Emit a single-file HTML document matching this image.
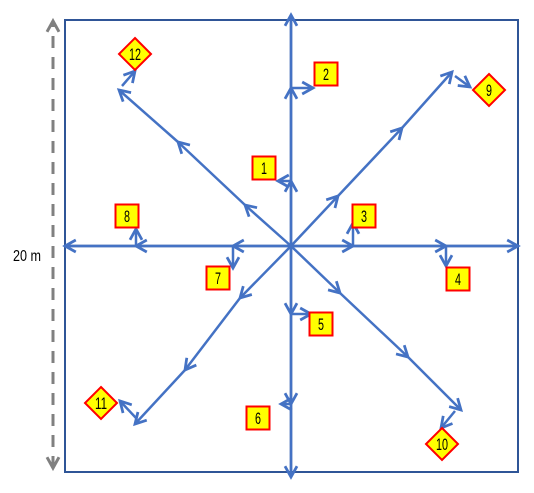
<!DOCTYPE html>
<html><head><meta charset="utf-8"><style>
html,body{margin:0;padding:0;background:#fff;}
svg{display:block;}
text{font-family:"Liberation Sans Narrow","Liberation Sans",sans-serif;}
</style></head><body>
<svg id="c" width="534" height="493" viewBox="0 0 534 493" xmlns="http://www.w3.org/2000/svg">
<defs>
<marker id="ah" viewBox="0 0 10 10" refX="9" refY="5" markerWidth="10" markerHeight="10" orient="auto-start-reverse" markerUnits="userSpaceOnUse" style="overflow:visible">
<path d="M0,0 L9,5 L0,10" fill="none" stroke="#4472C4" stroke-width="2.3" transform="translate(9,5) scale(1.2) translate(-9,-5)"/>
</marker>
<marker id="gh" viewBox="0 0 10 10" refX="9" refY="5" markerWidth="10" markerHeight="10" orient="auto-start-reverse" markerUnits="userSpaceOnUse" style="overflow:visible">
<path d="M0,0 L9,5 L0,10" fill="none" stroke="#808080" stroke-width="2.5" transform="translate(9,5) scale(1.2) translate(-9,-5)"/>
</marker>
</defs>
<rect x="65" y="20" width="453" height="452" fill="none" stroke="#2F5597" stroke-width="2"/>
<line x1="53" y1="468" x2="53" y2="21" stroke="#808080" stroke-width="3" stroke-dasharray="12,9" marker-start="url(#gh)" marker-end="url(#gh)"/>
<text x="27" y="261" font-size="16" text-anchor="middle" textLength="28" lengthAdjust="spacingAndGlyphs">20 m</text>
<line x1="65" y1="246" x2="518" y2="246" stroke="#2F5597" stroke-width="2.5"/>
<line x1="291" y1="15" x2="291" y2="477" stroke="#2F5597" stroke-width="2.5"/>
<g id="g"></g>
</svg>
<script>
const center = [291, 246];
const armEnds = [[291,15],[291,477],[65,246],[518,246],[452,72],[119,90],[135,424],[461,410]];
const armMids = [[[291,181],[291,88]],[[291,314],[291,404]],[[233,246],[136,246]],[[353,246],[446,246]],[[338,196],[402,128]],[[245,205],[178,142]],[[240,298],[185,370]],[[340,293],[408,357]]];
const labels = ["1","2","3","4","5","6","7","8","9","10","11","12"];
const branchFrom = [[291,181],[291,88],[353,246],[446,246],[291,314],[291,404],[233,246],[136,246],[455,76],[455,411],[136,418],[122,86]];
const branchTo = [[278,181],[313,88],[353,223],[446,266],[311,314],[281,404],[233,268],[136,229],[470,87],[441,428],[120,401],[135,71]];
const markerCenter = [[264,168],[326,74],[364,216],[458,279],[321,324],[258,418],[218,278],[127,216],[489,90],[442,444],[101,403],[135,54]];
const markerShape = ["box","box","box","box","box","box","box","box","diamond","diamond","diamond","diamond"];

const g = document.getElementById('g');
const NS = 'http://www.w3.org/2000/svg';
function mk(t, a){const e=document.createElementNS(NS,t);for(const k in a)e.setAttribute(k,a[k]);g.appendChild(e);return e;}
armEnds.forEach((end,i)=>{
  let prev = center;
  const pts = armMids[i].concat([end]);
  pts.forEach((p)=>{
    const l = mk('line',{x1:prev[0],y1:prev[1],x2:p[0],y2:p[1],stroke:'#4472C4','stroke-width':2.5,'marker-end':'url(#ah)'});
    
    
    prev = p;
  });
});
labels.forEach((lab,i)=>{
  const f=branchFrom[i], t=branchTo[i];
  const l = mk('line',{x1:f[0],y1:f[1],x2:t[0],y2:t[1],stroke:'#4472C4','stroke-width':2.5,'marker-end':'url(#ah)'});
  
  
  const c=markerCenter[i];
  let s;
  if(markerShape[i]==='box'){
    s = mk('rect',{x:c[0]-11.5,y:c[1]-11.5,width:23,height:23,fill:'#FFFF00',stroke:'#FF0000','stroke-width':2});
  } else {
    s = mk('polygon',{points:`${c[0]},${c[1]-16} ${c[0]+16},${c[1]} ${c[0]},${c[1]+16} ${c[0]-16},${c[1]}`,fill:'#FFFF00',stroke:'#FF0000','stroke-width':2});
  }
  
  
  const tx = mk('text',{x:c[0],y:c[1]+6,'font-size':17,'text-anchor':'middle',fill:'#000',textLength:(lab.length>1?12:6),lengthAdjust:'spacingAndGlyphs'});
  tx.textContent = lab;
  
  
});
</script>
</body></html>
